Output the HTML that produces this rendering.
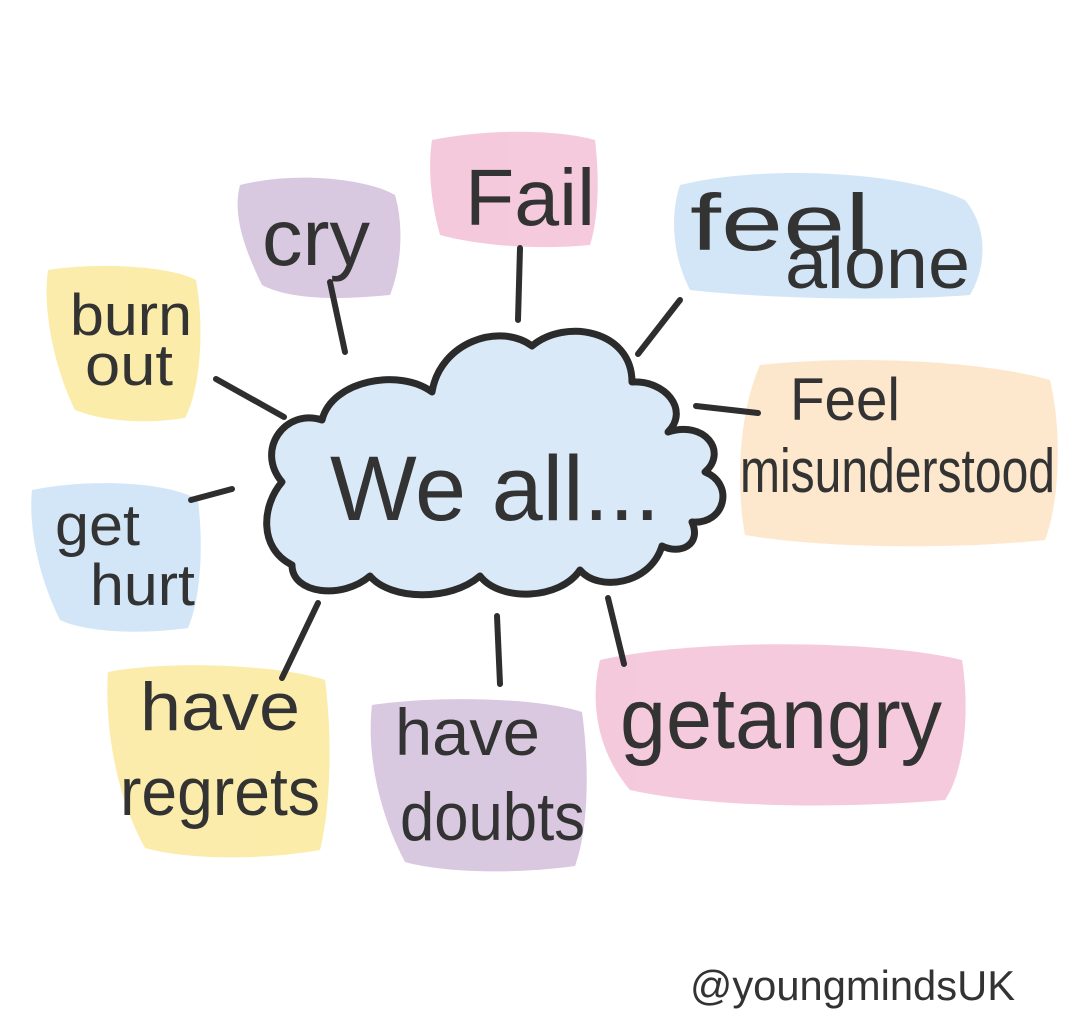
<!DOCTYPE html>
<html><head><meta charset="utf-8"><style>
html,body{margin:0;padding:0;background:#fff;}
svg{display:block;}
text{font-family:"Liberation Sans",sans-serif;fill:#333;}
</style></head><body>
<svg width="1080" height="1031" viewBox="0 0 1080 1031" xmlns="http://www.w3.org/2000/svg">
<g opacity="0.95">
<path d="M240,185 C300,170 370,180 395,195 C405,230 400,270 390,295 C340,300 290,300 262,285 C245,250 232,215 240,185Z" fill="#d7c6de"/>
<path d="M432,140 C490,128 560,130 595,140 C600,180 598,220 590,245 C540,250 480,246 440,235 C430,200 428,165 432,140Z" fill="#f5c7db"/>
<path d="M680,185 C760,165 900,170 965,200 C990,230 985,270 970,295 C880,302 760,298 690,290 C672,255 670,215 680,185Z" fill="#d1e5f7"/>
<path d="M48,270 C100,262 170,266 196,280 C205,330 200,390 185,418 C140,425 100,420 75,410 C55,370 42,310 48,270Z" fill="#fbeba6"/>
<path d="M760,365 C850,355 980,360 1050,380 C1062,430 1060,500 1045,540 C950,550 820,548 745,535 C735,480 740,410 760,365Z" fill="#fde6ca"/>
<path d="M32,490 C90,478 170,482 198,500 C204,550 200,600 188,628 C130,636 80,630 60,620 C40,580 28,530 32,490Z" fill="#d1e5f7"/>
<path d="M108,672 C170,660 280,665 325,680 C333,740 330,810 320,850 C250,862 180,858 145,848 C118,800 104,730 108,672Z" fill="#fbeba6"/>
<path d="M372,705 C440,695 540,698 582,712 C590,770 588,830 575,866 C510,875 440,872 405,862 C380,815 366,755 372,705Z" fill="#d7c6de"/>
<path d="M600,660 C700,638 880,640 962,660 C970,710 965,770 945,800 C830,810 700,806 630,790 C596,750 590,700 600,660Z" fill="#f5c7db"/>
</g>
<g stroke="#2e2e2e" stroke-width="6" stroke-linecap="round" fill="none">
<line x1="330" y1="282" x2="345" y2="352"/>
<line x1="520" y1="248" x2="518" y2="320"/>
<line x1="680" y1="300" x2="638" y2="354"/>
<line x1="216" y1="379" x2="284" y2="417"/>
<line x1="696" y1="406" x2="758" y2="413"/>
<line x1="191" y1="500" x2="232" y2="489"/>
<line x1="318" y1="603" x2="282" y2="678"/>
<line x1="497" y1="616" x2="500" y2="684"/>
<line x1="608" y1="598" x2="624" y2="664"/>
</g>
<path d="M292,565 C258,548 262,505 282,482 C255,450 285,408 322,420 C332,380 400,368 432,392 C440,342 500,322 532,346 C565,318 632,330 632,382 C665,380 690,410 668,432 C705,420 728,452 705,472 C735,484 725,525 692,522 C702,545 680,555 662,546 C650,585 598,592 580,570 C560,600 500,602 480,576 C450,602 390,600 370,576 C342,600 292,594 292,565Z" fill="#d9e9f7" stroke="#2b2b2b" stroke-width="7" stroke-linejoin="round"/>
<text x="262" y="265" font-size="80" textLength="108" lengthAdjust="spacingAndGlyphs">cry</text>
<text x="465" y="225" font-size="80" textLength="130" lengthAdjust="spacingAndGlyphs">Fail</text>
<text x="690" y="250" font-size="80" textLength="180" lengthAdjust="spacingAndGlyphs">feel</text>
<text x="785" y="288" font-size="72" textLength="185" lengthAdjust="spacingAndGlyphs">alone</text>
<text x="70" y="335" font-size="58" textLength="122" lengthAdjust="spacingAndGlyphs">burn</text>
<text x="85" y="385" font-size="58" textLength="88" lengthAdjust="spacingAndGlyphs">out</text>
<text x="790" y="420" font-size="60" textLength="110" lengthAdjust="spacingAndGlyphs">Feel</text>
<text x="740" y="492" font-size="62" textLength="315" lengthAdjust="spacingAndGlyphs">misunderstood</text>
<text x="55" y="545" font-size="58" textLength="85" lengthAdjust="spacingAndGlyphs">get</text>
<text x="90" y="605" font-size="58" textLength="105" lengthAdjust="spacingAndGlyphs">hurt</text>
<text x="140" y="730" font-size="68" textLength="160" lengthAdjust="spacingAndGlyphs">have</text>
<text x="120" y="815" font-size="68" textLength="200" lengthAdjust="spacingAndGlyphs">regrets</text>
<text x="395" y="755" font-size="66" textLength="145" lengthAdjust="spacingAndGlyphs">have</text>
<text x="400" y="840" font-size="68" textLength="185" lengthAdjust="spacingAndGlyphs">doubts</text>
<text x="620" y="748" font-size="86" textLength="322" lengthAdjust="spacingAndGlyphs">getangry</text>
<text x="330" y="520" font-size="92" textLength="330" lengthAdjust="spacingAndGlyphs">We all...</text>
<text x="690" y="1000" font-size="42" textLength="325" lengthAdjust="spacingAndGlyphs">@youngmindsUK</text>
</svg>
</body></html>
